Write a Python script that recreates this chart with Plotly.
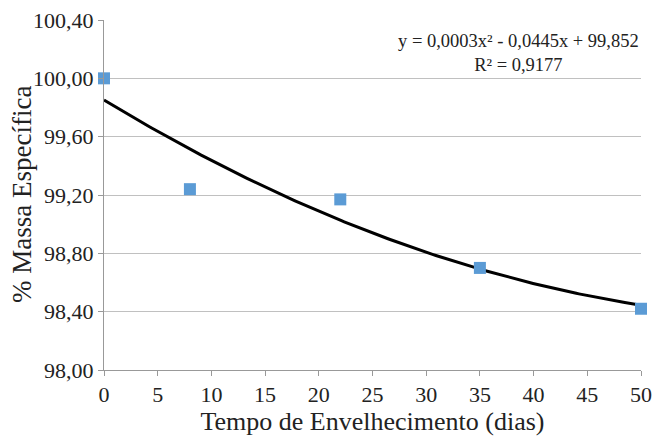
import numpy as np
import plotly.graph_objects as go

dias = [0, 8, 22, 35, 50]
massa = [100.00, 99.24, 99.17, 98.70, 98.42]
y_ticks = [98.00, 98.40, 98.80, 99.20, 99.60, 100.00, 100.40]
y_tick_labels = ["98,00", "98,40", "98,80", "99,20", "99,60", "100,00", "100,40"]
x_ticks = list(range(0, 55, 5))
equation = "y = 0,0003x² - 0,0445x + 99,852<br>R² = 0,9177"
x_title = "Tempo de Envelhecimento (dias)"
y_title = "% Massa Específica"

coef = np.polyfit(dias, massa, 2)
xf = np.linspace(0, 50, 200)
yf = np.polyval(coef, xf)

font = "'Liberation Serif', 'Times New Roman', Times, serif"
L, R, T, B = 104, 12, 20, 70
W, H = 653, 440
pw = W - L - R

fig = go.Figure()
fig.add_trace(go.Scatter(x=xf, y=yf, mode="lines",
                         line=dict(color="black", width=3), showlegend=False))
fig.add_trace(go.Scatter(x=dias, y=massa, mode="markers",
                         marker=dict(symbol="square", size=12, color="#5B9BD5"),
                         showlegend=False, cliponaxis=False))

fig.update_layout(
    width=W, height=H,
    margin=dict(l=L, r=R, t=T, b=B),
    paper_bgcolor="white", plot_bgcolor="white",
    font=dict(family=font, color="#222", size=16),
)
fig.update_xaxes(range=[0, 50], tickvals=x_ticks, showgrid=False,
                 showline=True, linecolor="#999", linewidth=1,
                 ticks="outside", tickcolor="#999", ticklen=5,
                 tickfont=dict(size=22, family=font),
                 title=dict(text=x_title, font=dict(size=26, family=font), standoff=4),
                 zeroline=False, automargin=False)
fig.update_yaxes(range=[98.0, 100.4], tickvals=y_ticks, ticktext=y_tick_labels,
                 showgrid=True, gridcolor="#c0c0c0", gridwidth=1,
                 showline=True, linecolor="#999", linewidth=1,
                 ticks="outside", tickcolor="#999", ticklen=5,
                 tickfont=dict(size=22, family=font),
                 zeroline=False, automargin=False)

fig.add_annotation(x=(22 - L) / pw, y=0.5, xref="paper", yref="paper",
                   xanchor="center", yanchor="middle", textangle=-90,
                   text=y_title, showarrow=False,
                   font=dict(size=27, family=font, color="#222"))

fig.add_annotation(x=1, y=0.975, xref="paper", yref="paper",
                   xanchor="right", yanchor="top", align="center",
                   text=equation, showarrow=False,
                   font=dict(size=18.5, family=font, color="#222"))

fig.write_html("out.html", config={"displayModeBar": False},
               post_script="document.body.style.margin='0';")
